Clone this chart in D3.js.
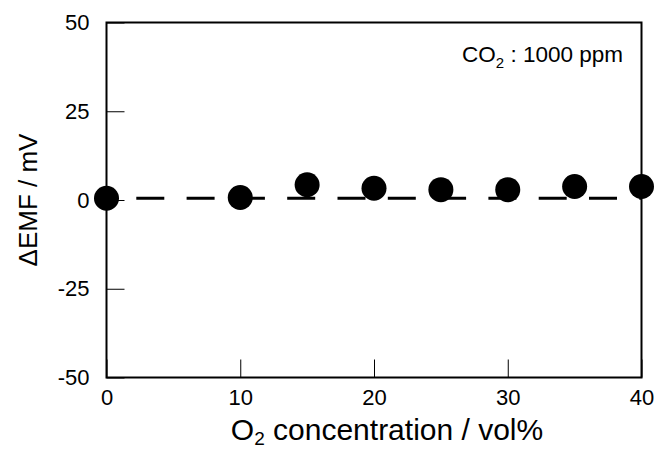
<!DOCTYPE html>
<html>
<head>
<meta charset="utf-8">
<script src="https://cdn.jsdelivr.net/npm/d3@7"></script>
<style>
  body { margin: 0; background: #fff; }
  text { font-family: Arial, "Liberation Sans", sans-serif; fill: #000; }
</style>
</head>
<body>
<svg id="drawing_region"></svg>
<script>
// O2 concentration (vol%) and measured dEMF (mV)
const o2_conc = [0, 10, 15, 20, 25, 30, 35, 40];
const d_emf = [0.5, 0.7, 4.3, 3.3, 2.9, 2.9, 3.8, 3.8];
// dashed reference level
const ref_x = [0, 40];
const ref_y = [0.5, 0.5];
const x_ticks = [0, 10, 20, 30, 40];
const y_ticks = [-50, -25, 0, 25, 50];

const config = {
    width: 666,
    height: 452,
    margin: {top: 22.5, right: 24.5, bottom: 74.5, left: 106.5}
};

const svg = d3.select('#drawing_region')
    .attr('width', config.width)
    .attr('height', config.height);

const inner_width = config.width - config.margin.left - config.margin.right;
const inner_height = config.height - config.margin.top - config.margin.bottom;

const chart = svg.append('g')
    .attr('transform', `translate(${config.margin.left}, ${config.margin.top})`);

const xscale = d3.scaleLinear().domain([0, 40]).range([0, inner_width]);
const yscale = d3.scaleLinear().domain([-50, 50]).range([inner_height, 0]);

// axes with inward ticks
const xaxis = chart.append('g')
    .attr('transform', `translate(0, ${inner_height})`)
    .call(d3.axisBottom(xscale).tickValues(x_ticks).tickSizeInner(-18).tickSizeOuter(0).tickPadding(12));
const yaxis = chart.append('g')
    .call(d3.axisLeft(yscale).tickValues(y_ticks).tickSizeInner(-18).tickSizeOuter(0).tickPadding(17)
        .tickFormat(d => String(d)));

[xaxis, yaxis].forEach(ax => {
    ax.select('.domain').remove();
    ax.selectAll('line').attr('stroke', '#000').attr('stroke-width', 1);
    ax.selectAll('text').style('font-size', '22px').attr('font-family', null);
});

// dashed line
const line = d3.line().x((d, i) => xscale(ref_x[i])).y(d => yscale(d));
chart.append('path')
    .datum(ref_y)
    .attr('d', line)
    .attr('fill', 'none')
    .attr('stroke', '#000')
    .attr('stroke-width', 3)
    .attr('stroke-dasharray', '28,22.3')
    .attr('stroke-dashoffset', 20.5);

// frame
chart.append('rect')
    .attr('width', inner_width)
    .attr('height', inner_height)
    .attr('fill', 'none')
    .attr('stroke', '#000')
    .attr('stroke-width', 2);

// points
chart.selectAll('circle')
    .data(d_emf)
    .enter()
    .append('circle')
    .attr('cx', (d, i) => xscale(o2_conc[i]))
    .attr('cy', d => yscale(d))
    .attr('r', 12.5)
    .attr('fill', '#000');

// annotation
const note = svg.append('text')
    .attr('x', 623)
    .attr('y', 62)
    .attr('text-anchor', 'end')
    .style('font-size', '22.5px');
note.append('tspan').text('CO');
note.append('tspan').attr('dy', 6).style('font-size', '15px').text('2');
note.append('tspan').attr('dy', -6).text(' : 1000 ppm');

// axis titles
const xtitle = svg.append('text')
    .attr('x', 387)
    .attr('y', 440)
    .attr('text-anchor', 'middle')
    .style('font-size', '30px');
xtitle.append('tspan').text('O');
xtitle.append('tspan').attr('dy', 5).style('font-size', '19px').text('2');
xtitle.append('tspan').attr('dy', -5).text(' concentration / vol%');

svg.append('text')
    .attr('transform', `translate(37, 200) rotate(-90)`)
    .attr('text-anchor', 'middle')
    .style('font-size', '26px')
    .text('ΔEMF / mV');
</script>
</body>
</html>
